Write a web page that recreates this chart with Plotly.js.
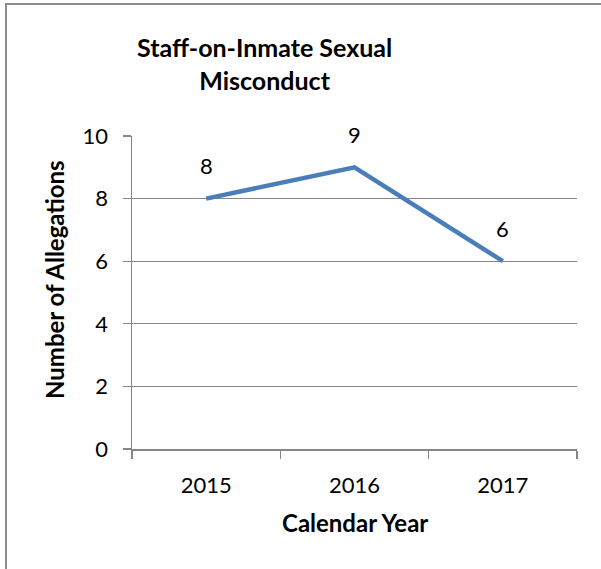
<!DOCTYPE html>
<html>
<head>
<meta charset="utf-8">
<script src="https://cdn.plot.ly/plotly-3.0.1.min.js"></script>
<style>
  html, body { margin: 0; padding: 0; background: #fff; }
  #wrap { position: relative; width: 601px; height: 569px; }
  #chart { width: 601px; height: 569px; }
  #frame { position: absolute; left: 5px; top: 3px; width: 620px; height: 620px;
           border-left: 2px solid #8c8c8c; border-top: 2px solid #8c8c8c; pointer-events: none; }
</style>
</head>
<body>
<div id="wrap">
  <div id="chart"></div>
  <div id="frame"></div>
</div>
<script>
const years = ["2015", "2016", "2017"];
const allegations = [8, 9, 6];
const yTicks = [0, 2, 4, 6, 8, 10];

const titleLines = ["Staff-on-Inmate Sexual", "Misconduct"];
const xTitle = "Calendar Year";
const yTitle = "Number of Allegations";

const FONT = "Lato, 'Open Sans', sans-serif";
const GRID = "#868686";

const trace = {
  x: years,
  y: allegations,
  type: "scatter",
  mode: "lines",
  line: { color: "#4A7EBB", width: 4.5 },
  hoverinfo: "skip",
  cliponaxis: false
};

// data labels positioned by category index on the category axis
const labelAnns = years.map((yr, i) => ({
  x: i, y: allegations[i], xref: "x", yref: "y",
  text: String(allegations[i]), showarrow: false,
  yshift: 33, font: { family: FONT, size: 22, color: "#000" }
}));

const layout = {
  width: 601, height: 569,
  margin: { l: 132, r: 24, t: 136, b: 120 },
  paper_bgcolor: "#fff", plot_bgcolor: "#fff",
  showlegend: false,
  font: { family: FONT, color: "#000" },
  xaxis: {
    type: "category",
    categoryarray: years, categoryorder: "array",
    range: [-0.5, 2.5],
    tickson: "boundaries",
    ticks: "outside", ticklen: 8, tickwidth: 1.3, tickcolor: GRID,
    showline: true, linecolor: GRID, linewidth: 1.5,
    showgrid: false, zeroline: false,
    tickfont: { family: FONT, size: 22, color: "#000" },
    ticklabelstandoff: 16,
    fixedrange: true
  },
  yaxis: {
    range: [0, 10],
    tickvals: yTicks,
    ticktext: yTicks.map(String),
    ticks: "outside", ticklen: 8, tickwidth: 1.3, tickcolor: GRID,
    showline: true, linecolor: GRID, linewidth: 1.5,
    showgrid: true, gridcolor: GRID, gridwidth: 1.3,
    zeroline: false,
    tickfont: { family: FONT, size: 22, color: "#000" },
    ticklabelstandoff: 10,
    fixedrange: true
  },
  annotations: labelAnns.concat([
    {
      text: "<b>" + titleLines.join("<br>") + "</b>", showarrow: false,
      xref: "paper", yref: "paper", x: (264 - 132) / 445, y: (449 - 64) / 313,
      xanchor: "center", yanchor: "middle", align: "center",
      font: { family: FONT, size: 25, color: "#000" }
    },
    {
      text: "<b>" + xTitle + "</b>", showarrow: false,
      xref: "paper", yref: "paper", x: 0.5, y: (449 - 522) / 313,
      xanchor: "center", yanchor: "middle",
      font: { family: FONT, size: 24, color: "#000" }
    },
    {
      text: "<b>" + yTitle + "</b>", showarrow: false, textangle: -90,
      xref: "paper", yref: "paper", x: (54 - 132) / 445, y: (449 - 280) / 313,
      xanchor: "center", yanchor: "middle",
      font: { family: FONT, size: 24, color: "#000" }
    }
  ])
};

Plotly.newPlot("chart", [trace], layout, { staticPlot: true, displayModeBar: false });
</script>
</body>
</html>
